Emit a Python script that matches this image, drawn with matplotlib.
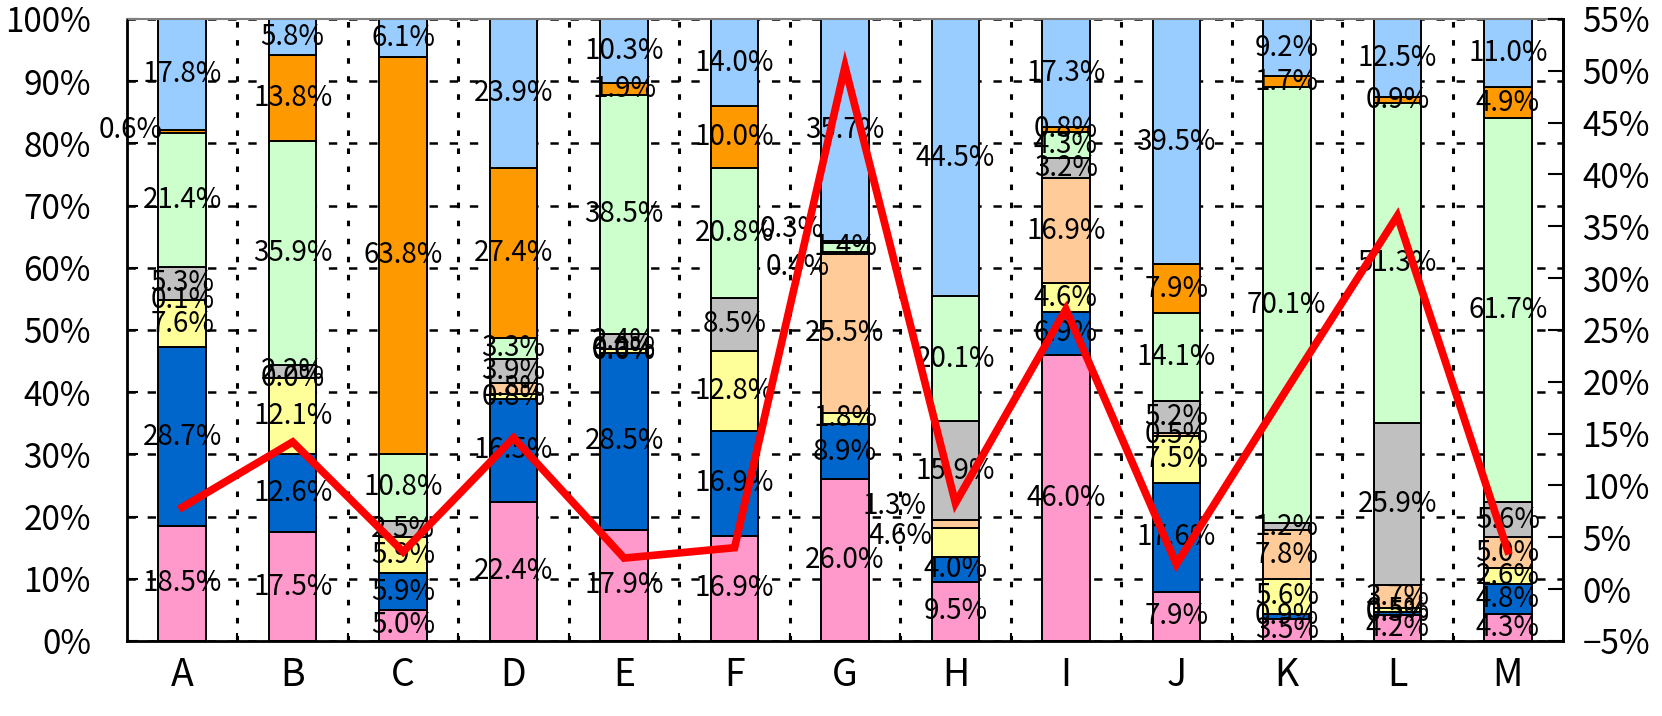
import numpy as np
import matplotlib
matplotlib.use("Agg")
import matplotlib.pyplot as plt
from matplotlib.ticker import FixedLocator

plt.rcParams['font.family'] = ['Noto Sans CJK JP', 'DejaVu Sans']
plt.rcParams['lines.scale_dashes'] = False

nan = np.nan

# categorie
categories = ["A", "B", "C", "D", "E", "F", "G", "H", "I", "J", "K", "L", "M"]

# serie impilate (dal basso verso l'alto)
pink = [18.5, 17.5, 5.0, 22.4, 17.9, 16.9, 26.0, 9.5, 46.0, 7.9, 3.5, 4.2, 4.3]
blue = [28.7, 12.6, 5.9, 16.5, 28.5, 16.9, 8.9, 4.0, 6.9, 17.6, 0.9, 0.5, 4.8]
yellow = [7.6, 12.1, 5.9, 0.8, 0.6, 12.8, 1.8, 4.6, 4.6, 7.5, 5.6, 0.5, 2.6]
peach = [0.1, 0.0, nan, 1.8, 0.0, nan, 25.5, 1.3, 16.9, 0.5, 7.8, 3.7, 5.0]
gray = [5.3, 2.2, 2.5, 3.9, 2.4, 8.5, 0.4, 15.9, 3.2, 5.2, 1.2, 25.9, 5.6]
green = [21.4, 35.9, 10.8, 3.3, 38.5, 20.8, 1.4, 20.1, 4.3, 14.1, 70.1, 51.3, 61.7]
orange = [0.6, 13.8, 63.8, 27.4, 1.9, 10.0, 0.3, nan, 0.8, 7.9, 1.7, 0.9, 4.9]
ltblue = [17.8, 5.8, 6.1, 23.9, 10.3, 14.0, 35.7, 44.5, 17.3, 39.5, 9.2, 12.5, 11.0]

# linea sull'asse destro
line = [7.9, 14.2, 3.6, 14.6, 3.0, 4.0, 50.4, 8.3, 27.0, 2.4, 19.3, 36.0, 3.7]

series = [pink, blue, yellow, peach, gray, green, orange, ltblue]
colors = ['#FF99CC', '#0066CC', '#FFFF99', '#FFCC99', '#C0C0C0', '#CCFFCC', '#FF9900', '#99CCFF']

# etichette spostate a mano (serie, categoria) -> (dx in categorie, dy in %)
label_shift = {
    (6, 0): (-0.47, 0.3),
    (6, 6): (-0.48, 2.1),
    (4, 6): (-0.43, -2.2),
    (3, 7): (-0.55, 3.0),
    (2, 7): (-0.50, 1.0),
}

data = np.array(series, dtype=float)
totals = np.nansum(data, axis=0)
norm = np.nan_to_num(data) / totals * 100

x = np.arange(len(categories))
fig = plt.figure(figsize=(16.62, 7.16), dpi=100)
ax = fig.add_axes([127 / 1662, 1 - 641 / 716, 1436 / 1662, 622 / 716])
ax.set_axisbelow(True)

bottom = np.zeros(len(categories))
for s, (vals, col) in enumerate(zip(norm, colors)):
    ax.bar(x, vals, 0.43, bottom=bottom, color=col, edgecolor='black', linewidth=1.4, zorder=2)
    for i in range(len(categories)):
        if np.isnan(data[s, i]):
            continue
        dx, dy = label_shift.get((s, i), (0, 0))
        ax.text(x[i] + dx, bottom[i] + vals[i] / 2 + dy, f"{data[s, i]:.1f}%",
                ha='center', va='center', fontsize=20, color='black', zorder=3)
    bottom += vals

ax.set_xlim(-0.5, len(categories) - 0.5)
ax.set_ylim(0, 100)
ax.set_yticks(np.arange(0, 101, 10))
ax.set_yticklabels([f"{v}%" for v in range(0, 101, 10)], fontsize=24)
ax.set_xticks(x)
ax.set_xticklabels(categories, fontsize=27)
ax.xaxis.set_minor_locator(FixedLocator(np.arange(0.5, len(categories) - 1, 1)))
ax.tick_params(axis='x', which='major', length=0, pad=11)
ax.tick_params(axis='x', which='minor', direction='in', length=6, width=1.5)
ax.tick_params(axis='y', direction='in', length=8, width=1.5, pad=26)

ax.yaxis.grid(True, color='black', linewidth=1.8, dashes=(6, 8.5))
ax.xaxis.grid(True, which='minor', color='black', linewidth=2.2, dashes=(4, 9))
for sp in ['left', 'bottom', 'right']:
    ax.spines[sp].set_linewidth(2)
ax.spines['top'].set_color('#808080')
ax.spines['top'].set_linewidth(1.5)

ax2 = ax.twinx()
ax2.plot(x, line, color='#FF0000', linewidth=5.5, solid_joinstyle='miter', zorder=5)
ax2.set_ylim(-5, 55)
ax2.set_yticks(np.arange(-5, 56, 5))
ax2.set_yticklabels([f"{v}%".replace('-', '\u2212') for v in range(-5, 56, 5)], fontsize=24)
ax2.tick_params(axis='y', direction='in', length=11, width=1.5, pad=14)
ax2.spines['right'].set_linewidth(2)
ax2.spines['top'].set_visible(False)

fig.savefig("out.png", dpi=100)
